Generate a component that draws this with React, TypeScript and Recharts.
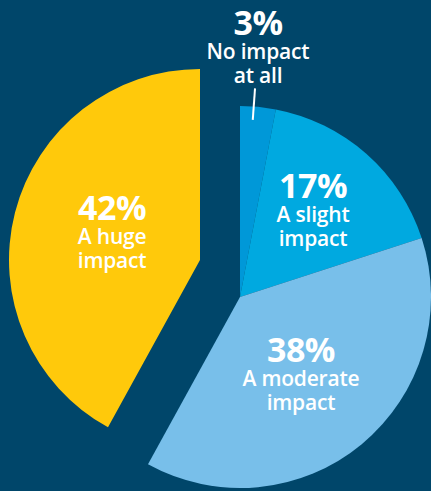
import React from "react";
import { PieChart, Pie, Cell } from "recharts";

const categories = ["No impact at all", "A slight impact", "A moderate impact", "A huge impact"];
const values = [3, 17, 38, 42];
const labelLines: string[][] = [
  ["No impact", "at all"],
  ["A slight", "impact"],
  ["A moderate", "impact"],
  ["A huge", "impact"],
];
const colors = ["#0098d8", "#00a9e0", "#78bfea", "#ffc90b"];
const BG = "#00466a";

const data = categories.map((name, i) => ({
  name,
  value: values[i],
  pct: `${values[i]}%`,
  lines: labelLines[i],
}));

// label placement relative to slice: radius factor and angle tweak (degrees)
const labelRadius = [1.312, 0.595, 0.514, 0.483];
const labelAngleShift = [1.28, 1.4, -1.2, -3.25];
const FONT = "'Open Sans', 'Noto Sans', sans-serif";

const renderLabel = (which: "main" | "exploded") => (props: any) => {
  const { cx, cy, midAngle, outerRadius, index, payload } = props;
  const isHuge = index === 3;
  if ((which === "main" && isHuge) || (which === "exploded" && !isHuge)) return null;
  const RAD = Math.PI / 180;
  const ang = midAngle + labelAngleShift[index];
  const r = outerRadius * labelRadius[index];
  const x = cx + r * Math.cos(-ang * RAD);
  const y = cy + r * Math.sin(-ang * RAD);
  const lines: string[] = payload.lines;
  const pctY = y - 25;
  return (
    <g key={`lbl-${index}`}>
      <text
        x={x}
        y={pctY}
        fill="#ffffff"
        textAnchor="middle"
        dominantBaseline="central"
        fontFamily={FONT}
        fontWeight={700}
        fontSize={34}
        letterSpacing={-0.5}
      >
        {payload.pct}
      </text>
      {lines.map((ln, k) => (
        <text
          key={k}
          x={x}
          y={pctY + 29 + k * 24}
          fill="#ffffff"
          textAnchor="middle"
          dominantBaseline="central"
          fontFamily={FONT}
          fontWeight={600}
          fontSize={21}
          letterSpacing={-0.2}
        >
          {ln}
        </text>
      ))}
      {index === 0 && (
        <line
          x1={cx + outerRadius * 0.93 * Math.cos(-ang * RAD)}
          y1={cy + outerRadius * 0.93 * Math.sin(-ang * RAD)}
          x2={cx + outerRadius * 1.095 * Math.cos(-ang * RAD)}
          y2={cy + outerRadius * 1.095 * Math.sin(-ang * RAD)}
          stroke="#ffffff"
          strokeWidth={2}
        />
      )}
    </g>
  );
};

export default function App() {
  return (
    <div style={{ position: "fixed", left: 0, top: 0, width: 431, height: 491, background: BG }}>
      <PieChart width={431} height={491} margin={{ top: 0, right: 0, bottom: 0, left: 0 }}>
        <Pie
          data={data}
          dataKey="value"
          cx={240}
          cy={297}
          outerRadius={191}
          startAngle={90}
          endAngle={-270}
          stroke="none"
          isAnimationActive={false}
          label={renderLabel("main")}
          labelLine={false}
        >
          {data.map((d, i) => (
            <Cell key={d.name} fill={i === 3 ? "transparent" : colors[i]} />
          ))}
        </Pie>
        <Pie
          data={data}
          dataKey="value"
          cx={200}
          cy={260}
          outerRadius={191}
          startAngle={90}
          endAngle={-270}
          stroke="none"
          isAnimationActive={false}
          label={renderLabel("exploded")}
          labelLine={false}
        >
          {data.map((d, i) => (
            <Cell key={d.name} fill={i === 3 ? colors[i] : "transparent"} />
          ))}
        </Pie>
      </PieChart>
    </div>
  );
}
